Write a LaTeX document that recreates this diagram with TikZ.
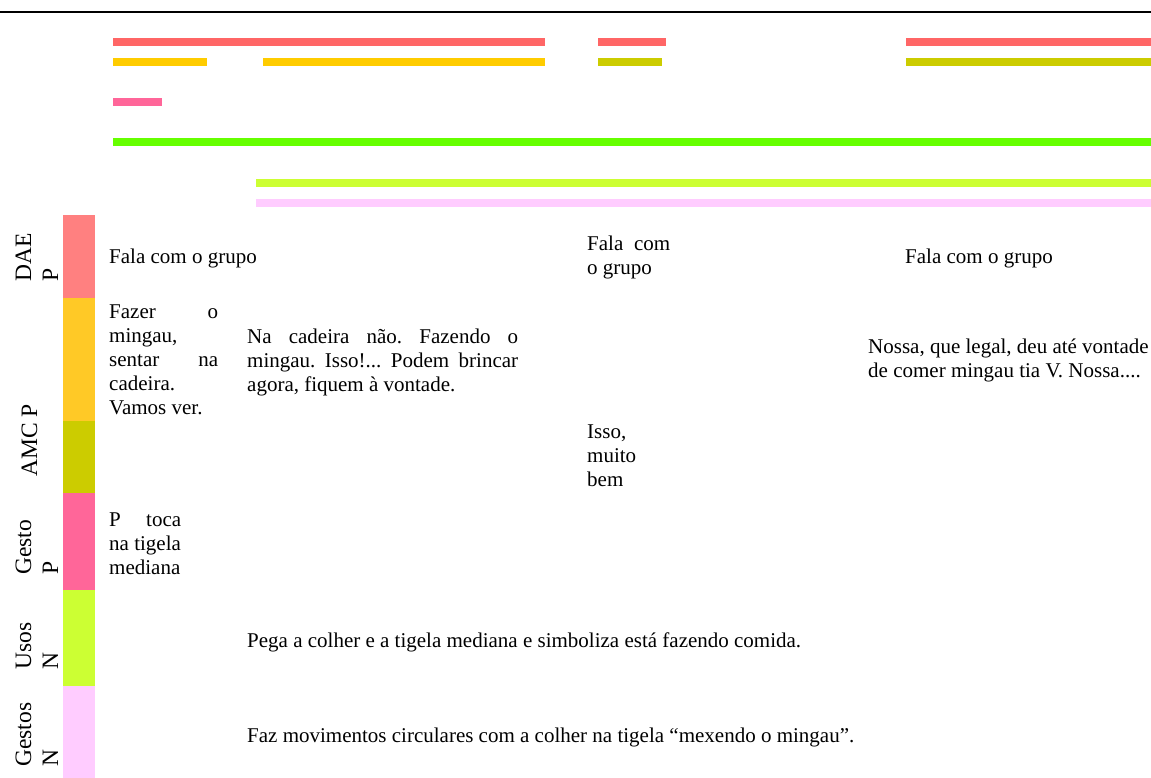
\documentclass[tikz,border=0pt]{standalone}
\usepackage{fontspec}
\setmainfont{Liberation Serif}
\definecolor{barRed}{HTML}{FF6666}
\definecolor{barYellow}{HTML}{FFCC00}
\definecolor{barOlive}{HTML}{CCCC00}
\definecolor{barPink}{HTML}{FF6699}
\definecolor{barGreen}{HTML}{66FF00}
\definecolor{barLime}{HTML}{CCFF33}
\definecolor{barLilac}{HTML}{FFCCFF}
\definecolor{keySalmon}{HTML}{FF8080}
\definecolor{keyYellow}{HTML}{FFC926}
\frenchspacing
\begin{document}
\begin{tikzpicture}[x=1pt,y=-1pt,
  bar/.style={line width=8pt},
  body/.style={inner sep=0pt, anchor=base west, font=\fontsize{21}{24}\selectfont},
  tag/.style={inner sep=0pt, anchor=base west, rotate=90, font=\fontsize{23.5}{27}\selectfont}]
\useasboundingbox (0,0) rectangle (1151,778);
\fill[white] (0,0) rectangle (1151,778);
% rule across the top
\draw[line width=2.5pt] (0,12.2) -- (1151,12.2);

% timeline bars
\draw[bar, barRed] (113,42) -- (545,42);
\draw[bar, barRed] (598,42) -- (666,42);
\draw[bar, barRed] (906,42) -- (1151,42);
\draw[bar, barYellow] (113,62) -- (207,62);
\draw[bar, barYellow] (263,62) -- (545,62);
\draw[bar, barOlive] (598,62) -- (662,62);
\draw[bar, barOlive] (906,62) -- (1151,62);
\draw[bar, barPink] (113,102.5) -- (162,102.5);
\draw[bar, barGreen] (113,142.5) -- (1151,142.5);
\draw[bar, barLime] (256,183) -- (1151,183);
\draw[bar, barLilac] (256,203) -- (1151,203);

% colour key column
\fill[keySalmon] (63,215) rectangle (95,298);
\fill[keyYellow] (63,298) rectangle (95,421);
\fill[barOlive]  (63,421) rectangle (95,493);
\fill[barPink]   (63,493) rectangle (95,590);
\fill[barLime]   (63,590) rectangle (95,686);
\fill[barLilac]  (63,686) rectangle (95,778);

% category labels
\node[tag] (tagDAE)    at (31,282) {\parbox[t]{90pt}{\raggedright DAE\\P}};
\node[tag] (tagAMC)    at (37,477) {AMC P};
\node[tag] (tagGesto)  at (31,575) {\parbox[t]{90pt}{\raggedright Gesto\\P}};
\node[tag] (tagUsos)   at (31,670) {\parbox[t]{90pt}{\raggedright Usos\\N}};
\node[tag] (tagGestos) at (31,767) {\parbox[t]{90pt}{\raggedright Gestos\\N}};

% transcript text
\node[body] (falaA) at (109,263) {Fala com o grupo};
\node[body] (fazer) at (109,318) {\parbox[t]{109pt}{\makebox[\linewidth][s]{Fazer o}\\mingau,\\\makebox[\linewidth][s]{sentar na}\\cadeira.\\Vamos ver.}};
\node[body] (cadeira) at (247,343) {\parbox[t]{271pt}{\makebox[\linewidth][s]{Na cadeira não. Fazendo o}\\\makebox[\linewidth][s]{mingau. Isso!... Podem brincar}\\agora, fiquem à vontade.}};
\node[body] (falaB) at (587,251) {\parbox[t]{83pt}{\makebox[\linewidth][s]{Fala com}\\o grupo}};
\node[body] (falaC) at (905,263) {Fala com o grupo};
\node[body] (nossa) at (868,353) {\parbox[t]{285pt}{Nossa, que legal, deu até vontade\\de comer mingau tia V. Nossa....}};
\node[body] (isso) at (587,438) {\parbox[t]{60pt}{Isso,\\muito\\bem}};
\node[body] (toca) at (109,526) {\parbox[t]{72pt}{\makebox[\linewidth][s]{P toca}\\na tigela\\mediana}};
\node[body] (pega) at (247,647) {Pega a colher e a tigela mediana e simboliza está fazendo comida.};
\node[body] (faz) at (247,742) {Faz movimentos circulares com a colher na tigela “mexendo o mingau”.};
\end{tikzpicture}
\end{document}
